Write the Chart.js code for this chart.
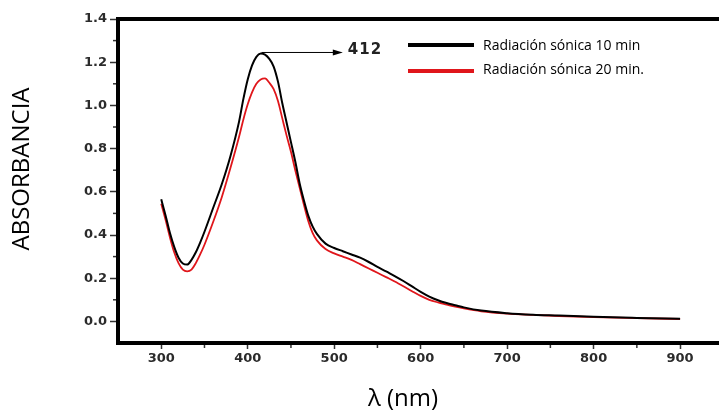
<!DOCTYPE html>
<html lang="es">
<head>
  <meta charset="UTF-8">
  <title>Absorbancia UV-Vis</title>
  <style>
    html, body { margin: 0; padding: 0; background: #fff; }
    #chart { display: block; }
  </style>
</head>
<body>
  <canvas id="chart" width="719" height="417"></canvas>

  <script src="https://cdn.jsdelivr.net/npm/chart.js"></script>
  <script>
    // longitudes de onda (nm)
    const wavelengths = [300, 305, 310, 315, 320, 325, 330, 335, 340, 345, 350, 360, 370, 380, 390, 395,
      400, 405, 410, 415, 420, 425, 430, 435, 440, 445, 450, 455, 460, 465, 470, 475, 480, 490,
      500, 510, 520, 530, 540, 550, 560, 570, 580, 590, 600, 610, 620, 630, 640, 650, 670,
      700, 730, 760, 800, 850, 900];

    // absorbancia, 10 min
    const abs10 = [0.565, 0.49, 0.41, 0.345, 0.295, 0.268, 0.263, 0.285, 0.32, 0.365, 0.415, 0.525, 0.635, 0.765, 0.925, 1.03,
      1.12, 1.185, 1.225, 1.24, 1.235, 1.215, 1.18, 1.11, 1.01, 0.92, 0.83, 0.74, 0.64, 0.56, 0.49, 0.44, 0.405, 0.36,
      0.34, 0.325, 0.31, 0.295, 0.275, 0.252, 0.232, 0.21, 0.187, 0.162, 0.137, 0.115, 0.098, 0.085, 0.075, 0.065, 0.05,
      0.038, 0.031, 0.027, 0.021, 0.016, 0.012];

    // absorbancia, 20 min
    const abs20 = [0.545, 0.47, 0.39, 0.32, 0.27, 0.24, 0.232, 0.24, 0.27, 0.31, 0.355, 0.46, 0.575, 0.71, 0.855, 0.935,
      1.005, 1.06, 1.10, 1.12, 1.125, 1.105, 1.075, 1.02, 0.94, 0.86, 0.785, 0.70, 0.62, 0.54, 0.465, 0.41, 0.375, 0.335,
      0.315, 0.30, 0.285, 0.265, 0.245, 0.225, 0.205, 0.185, 0.163, 0.14, 0.118, 0.10, 0.088, 0.078, 0.068, 0.06, 0.047,
      0.036, 0.03, 0.025, 0.02, 0.015, 0.011];

    const seriesLabels = ['Radiación sónica 10 min', 'Radiación sónica 20 min.'];
    const seriesColors = ['#000000', '#e0161b'];

    const xTicks = [300, 400, 500, 600, 700, 800, 900];
    const xMinor = [350, 450, 550, 650, 750, 850];
    const yTicks = [0, 0.2, 0.4, 0.6, 0.8, 1.0, 1.2, 1.4];
    const yMinor = [0.1, 0.3, 0.5, 0.7, 0.9, 1.1, 1.3];

    const peakLabel = '412';
    const peakPoint = { x: 416, y: 1.245 };
    const arrowEnd = 510;

    const toPoints = (vals) => wavelengths.map((w, i) => ({ x: w, y: vals[i] }));

    // marco superior, marcas menores, títulos, leyenda y anotación
    const decorPlugin = {
      id: 'decor',
      afterDraw(chart) {
        const { ctx, chartArea } = chart;
        const xs = chart.scales.x;
        const ys = chart.scales.y;
        ctx.save();

        // línea superior
        ctx.strokeStyle = '#000';
        ctx.lineWidth = 4;
        ctx.beginPath();
        ctx.moveTo(chartArea.left - 2, chartArea.top);
        ctx.lineTo(chartArea.right, chartArea.top);
        ctx.stroke();

        // marcas menores
        ctx.strokeStyle = '#333';
        ctx.lineWidth = 1.5;
        xMinor.forEach(v => {
          const px = xs.getPixelForValue(v);
          ctx.beginPath();
          ctx.moveTo(px, chartArea.bottom + 2);
          ctx.lineTo(px, chartArea.bottom + 5);
          ctx.stroke();
        });
        yMinor.forEach(v => {
          const py = ys.getPixelForValue(v);
          ctx.beginPath();
          ctx.moveTo(chartArea.left - 2, py);
          ctx.lineTo(chartArea.left - 5, py);
          ctx.stroke();
        });

        // títulos de ejes
        ctx.fillStyle = '#000';
        ctx.font = '24px "Open Sans"';
        ctx.textAlign = 'center';
        ctx.textBaseline = 'middle';
        ctx.fillText('λ (nm)', 403, 399);
        ctx.save();
        ctx.translate(22, 169);
        ctx.rotate(-Math.PI / 2);
        ctx.fillText('ABSORBANCIA', 0, 0);
        ctx.restore();

        // leyenda
        ctx.font = '14px "Open Sans"';
        ctx.textAlign = 'left';
        [45, 71].forEach((ly, i) => {
          ctx.strokeStyle = seriesColors[i];
          ctx.lineWidth = 4;
          ctx.beginPath();
          ctx.moveTo(408, ly);
          ctx.lineTo(474, ly);
          ctx.stroke();
          ctx.fillStyle = '#000';
          ctx.fillText(seriesLabels[i], 483, ly + (i === 0 ? 1 : -1));
        });

        // flecha del pico
        const ax = xs.getPixelForValue(peakPoint.x);
        const ay = ys.getPixelForValue(peakPoint.y);
        const bx = xs.getPixelForValue(arrowEnd);
        ctx.strokeStyle = '#000';
        ctx.fillStyle = '#000';
        ctx.lineWidth = 1;
        ctx.beginPath();
        ctx.moveTo(ax, ay);
        ctx.lineTo(bx - 8, ay);
        ctx.stroke();
        ctx.beginPath();
        ctx.moveTo(bx, ay);
        ctx.lineTo(bx - 10, ay - 3);
        ctx.lineTo(bx - 10, ay + 3);
        ctx.closePath();
        ctx.fill();
        ctx.font = 'bold 15px "DejaVu Sans"';
        ctx.fillStyle = '#222';
        ctx.textBaseline = 'middle';
        ctx.letterSpacing = '1px';
        ctx.fillText(peakLabel, bx + 5, ay - 2);

        ctx.restore();
      }
    };

    new Chart(document.getElementById('chart'), {
      type: 'scatter',
      data: {
        datasets: [
          {
            label: seriesLabels[0],
            data: toPoints(abs10),
            showLine: true,
            borderColor: seriesColors[0],
            backgroundColor: seriesColors[0],
            borderWidth: 2,
            pointRadius: 0,
            cubicInterpolationMode: 'monotone'
          },
          {
            label: seriesLabels[1],
            data: toPoints(abs20),
            showLine: true,
            borderColor: seriesColors[1],
            backgroundColor: seriesColors[1],
            borderWidth: 1.8,
            pointRadius: 0,
            cubicInterpolationMode: 'monotone'
          }
        ]
      },
      options: {
        responsive: false,
        animation: false,
        devicePixelRatio: 1,
        layout: { padding: { top: 19, right: 0, left: 0, bottom: 0 } },
        plugins: {
          legend: { display: false },
          tooltip: { enabled: false }
        },
        scales: {
          x: {
            type: 'linear',
            min: 250,
            max: 945,
            afterBuildTicks: (scale) => { scale.ticks = xTicks.map(v => ({ value: v })); },
            afterFit: (scale) => { scale.height = 74; },
            border: { display: true, color: '#000', width: 4 },
            grid: { drawOnChartArea: false, drawTicks: true, tickLength: 6, tickColor: '#333', tickWidth: 1.5 },
            ticks: {
              color: '#2b2b2b',
              padding: 2,
              maxRotation: 0,
              font: { family: 'DejaVu Sans', size: 13, weight: 'bold' },
              callback: (v) => String(v)
            }
          },
          y: {
            min: -0.1,
            max: 1.4,
            afterBuildTicks: (scale) => { scale.ticks = yTicks.map(v => ({ value: v })); },
            afterFit: (scale) => { scale.width = 118; },
            border: { display: true, color: '#000', width: 4 },
            grid: { drawOnChartArea: false, drawTicks: true, tickLength: 8, tickColor: '#333', tickWidth: 1.5 },
            ticks: {
              color: '#2b2b2b',
              padding: 3,
              font: { family: 'DejaVu Sans', size: 13, weight: 'bold' },
              callback: (v) => v.toFixed(1)
            }
          }
        }
      },
      plugins: [decorPlugin]
    });
  </script>
</body>
</html>
